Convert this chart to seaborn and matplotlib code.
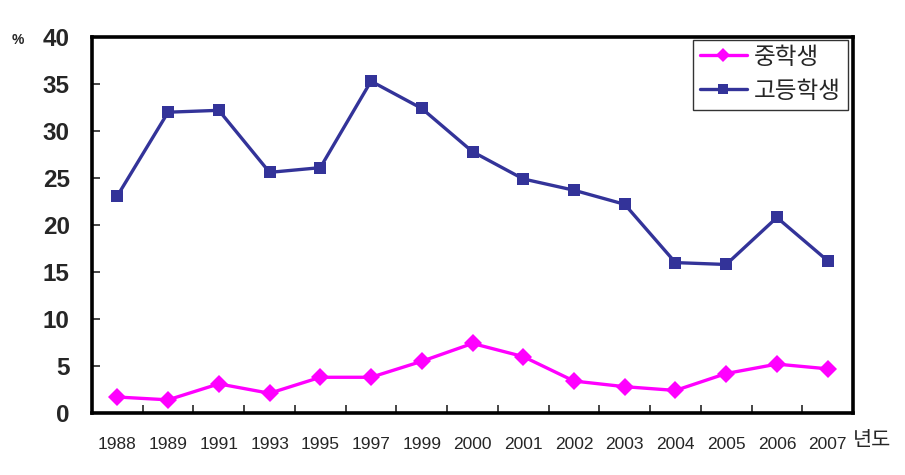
import matplotlib
matplotlib.use("Agg")
import matplotlib.pyplot as plt
import seaborn as sns
import pandas as pd
from matplotlib.ticker import FixedLocator

years = ["1988", "1989", "1991", "1993", "1995", "1997", "1999", "2000",
         "2001", "2002", "2003", "2004", "2005", "2006", "2007"]
middle = [1.7, 1.4, 3.1, 2.1, 3.8, 3.8, 5.5, 7.4, 6.0, 3.4, 2.8, 2.4, 4.2, 5.2, 4.7]
high = [23.1, 32.0, 32.2, 25.6, 26.1, 35.3, 32.4, 27.8, 24.9, 23.7, 22.2, 16.0, 15.8, 20.8, 16.2]
series_names = ["중학생", "고등학생"]
yticks = [0, 5, 10, 15, 20, 25, 30, 35, 40]

sns.set_style("white")
plt.rcParams['font.family'] = ['Liberation Sans', 'Noto Sans CJK KR', 'DejaVu Sans']

df = pd.DataFrame({
    "year": years * 2,
    "value": middle + high,
    "series": [series_names[0]] * len(years) + [series_names[1]] * len(years),
})

fig = plt.figure(figsize=(9.05, 4.75), dpi=100)
ax = fig.add_axes([92/905, 1-413/475, (853-92)/905, (413-37)/475])

palette = {series_names[0]: "#FF00FF", series_names[1]: "#333399"}
markers = {series_names[0]: "D", series_names[1]: "s"}
sns.lineplot(data=df, x="year", y="value", hue="series", style="series",
             palette=palette, markers=markers, dashes=False, ax=ax,
             linewidth=2.4, markersize=9, markeredgewidth=0, sort=False)

ax.set_xlim(-0.5, len(years) - 0.5)
ax.set_ylim(0, 40)
ax.set_xlabel("")
ax.set_ylabel("")

# y ticks
ax.set_yticks(yticks)
ax.set_yticklabels([str(t) for t in yticks], fontsize=17.5, fontweight="bold")
ax.tick_params(axis="y", direction="in", length=6, width=1.2, pad=16, left=True)

# x ticks: labels at centers, tick marks at boundaries
ax.set_xticks(range(len(years)))
ax.set_xticklabels(years, fontsize=12.5)
ax.tick_params(axis="x", which="major", length=0, pad=17)
ax.xaxis.set_minor_locator(FixedLocator([i + 0.5 for i in range(len(years) - 1)]))
ax.tick_params(axis="x", which="minor", direction="in", length=6, width=1.2, bottom=True)

for s in ax.spines.values():
    s.set_visible(True)
    s.set_color("black")
    s.set_linewidth(2.6)

leg = ax.legend(loc="upper right", bbox_to_anchor=(0.9935, 0.993), fontsize=17,
                frameon=True, fancybox=False, edgecolor="black", handlelength=2.0,
                handletextpad=0.3, borderpad=0.3, labelspacing=0.5, borderaxespad=0,
                markerscale=0.8)
leg.get_frame().set_linewidth(1.0)

fig.text(18/905, 1-40/475, "%", fontsize=10, fontweight="bold", ha="center", va="center")
fig.text(872/905, 1-440/475, "년도", fontsize=15, ha="center", va="center",
         family=['Noto Sans CJK KR', 'DejaVu Sans'])

fig.savefig("out.png", dpi=100)
